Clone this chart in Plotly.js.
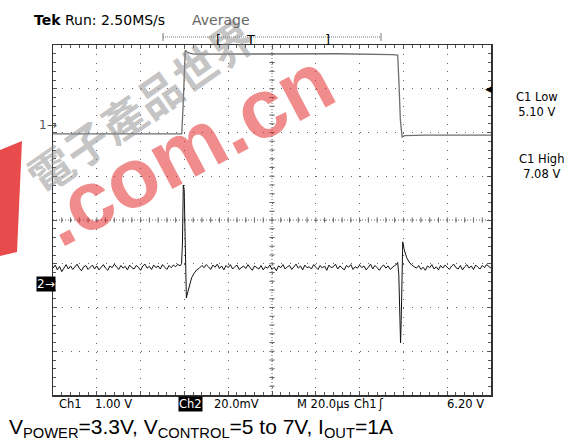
<!DOCTYPE html>
<html>
<head>
<meta charset="utf-8">
<script src="https://cdn.plot.ly/plotly-3.0.1.min.js"></script>
<style>
html,body{margin:0;padding:0;background:#fff;}
#chart{width:571px;height:441px;}
</style>
</head>
<body>
<div id="chart"></div>
<script>
// ---------- DATA (time in µs, 20 µs/div; levels in screen divisions) ----------
// Ch1 (gray) – control voltage step
const ch1Time  = [0, 20, 40, 58.8, 59.4, 60.0, 60.4, 61.2, 62.6, 64.6, 100, 130, 155, 157.4, 158.0, 158.6, 159.4, 160.6, 170, 200];
const ch1Level = [1.97, 1.97, 1.96, 1.97, 2.6, 3.5, 3.88, 3.84, 3.81, 3.79, 3.79, 3.80, 3.78, 3.77, 3.1, 2.3, 1.90, 1.93, 1.94, 1.94];

// Ch2 (black) – output ripple, 1 µs samples, noisy segments + transients
const ch2SegAStart = 0;
const ch2SegA = [-1.10,-1.03,-1.14,-1.06,-1.18,-1.09,-1.02,-1.12,-1.05,-1.13,
                 -1.08,-1.01,-1.10,-1.16,-1.07,-1.04,-1.13,-1.09,-1.03,-1.12,
                 -1.05,-1.14,-1.08,-1.02,-1.10,-1.15,-1.05,-1.09,-1.01,-1.08,
                 -1.13,-1.04,-1.10,-1.06,-1.14,-1.03,-1.09,-1.12,-1.04,-1.08,
                 -1.15,-1.05,-1.01,-1.10,-1.06,-1.13,-1.03,-1.09,-1.05,-1.12,
                 -1.02,-1.08,-1.13,-1.04,-1.09,-1.03,-1.07,-1.01,-1.05];
const spike1Time  = [58.7, 59.1, 59.5, 59.9, 60.3, 60.9, 61.6, 62.4, 63.3, 64.4, 65.6, 66.8];
const spike1Level = [-1.00, -0.55, 0.80, 0.70, -0.30, -1.78, -1.64, -1.47, -1.32, -1.22, -1.14, -1.10];
const ch2SegBStart = 68;
const ch2SegB = [-1.04,-1.09,-1.02,-1.07,-1.13,-1.03,-1.08,-1.01,-1.11,-1.05,
                 -1.14,-1.04,-1.09,-1.02,-1.12,-1.07,-1.03,-1.13,-1.08,-1.05,
                 -1.11,-1.02,-1.09,-1.15,-1.05,-1.08,-1.12,-1.04,-1.14,-1.07,
                 -1.10,-1.03,-1.13,-1.08,-1.16,-1.05,-1.09,-1.02,-1.12,-1.07,
                 -1.04,-1.13,-1.08,-1.01,-1.10,-1.05,-1.14,-1.03,-1.09,-1.07,
                 -1.12,-1.02,-1.08,-1.13,-1.04,-1.10,-1.05,-1.15,-1.03,-1.09,
                 -1.07,-1.01,-1.12,-1.05,-1.10,-1.14,-1.04,-1.08,-1.02,-1.13,
                 -1.07,-1.10,-1.03,-1.09,-1.05,-1.14,-1.08,-1.01,-1.12,-1.04,
                 -1.09,-1.15,-1.07,-1.03,-1.10,-1.05,-1.13,-1.08,-1.04];
const spike2Time  = [156.8, 157.4, 157.9, 158.3, 158.7, 159.0, 159.3, 159.7, 160.4, 161.5, 162.6, 163.8, 165.0];
const spike2Level = [-1.02, -0.97, -1.25, -2.20, -2.81, -2.30, -1.20, -0.50, -0.68, -0.86, -0.96, -1.03, -1.07];
const ch2SegCStart = 166;
const ch2SegC = [-1.10,-1.04,-1.13,-1.08,-1.15,-1.05,-1.09,-1.02,-1.12,-1.07,
                 -1.14,-1.04,-1.10,-1.03,-1.08,-1.13,-1.05,-1.01,-1.09,-1.12,
                 -1.04,-1.14,-1.07,-1.02,-1.10,-1.05,-1.13,-1.03,-1.08,-1.12,
                 -1.04,-1.09,-1.02,-1.07,-1.10];

// Labels
const topLabel = ['Tek', 'Run: 2.50MS/s', 'Average'];
const bottomLabels = ['Ch1', '1.00 V', 'Ch2', '20.0mV', 'M 20.0µs', 'Ch1', '6.20 V'];
const sideLabels = ['C1 Low', '5.10 V', 'C1 High', '7.08 V'];
const caption = 'V<sub>POWER</sub>=3.3V, V<sub>CONTROL</sub>=5 to 7V, I<sub>OUT</sub>=1A';

// ---------- build ch2 series ----------
const ch2T = [], ch2V = [];
function addSeg(start, vals){ vals.forEach((v,i)=>{ ch2T.push(start+i); ch2V.push(v); }); }
function addPts(ts, vs){ ts.forEach((t,i)=>{ ch2T.push(t); ch2V.push(vs[i]); }); }
addSeg(ch2SegAStart, ch2SegA);
addPts(spike1Time, spike1Level);
addSeg(ch2SegBStart, ch2SegB);
addPts(spike2Time, spike2Level);
addSeg(ch2SegCStart, ch2SegC);

// ---------- geometry ----------
const L = 53, R = 491, T = 45, B = 395, W = 571, H = 441;
const PW = R - L, PH = B - T;
const px = x => (x - L) / PW;
const py = y => (B - y) / PH;

const scopeFont = 'DejaVu Sans, sans-serif';

function ann(text, x, y, opts){
  return Object.assign({xref:'paper', yref:'paper', x:px(x), y:py(y), text:text,
    showarrow:false, xanchor:'left', yanchor:'middle',
    font:{family:scopeFont, size:11.5, color:'#000'}}, opts||{});
}

const annotations = [
  // watermark
  {xref:'paper', yref:'paper', x:px(140), y:py(105), xanchor:'center', yanchor:'middle', text:'電子產品世界', showarrow:false,
   textangle:-35, font:{family:'Noto Sans CJK TC', size:44, color:'rgba(140,140,140,0.5)', weight:700}},
  {xref:'paper', yref:'paper', x:px(186), y:py(149), xanchor:'center', yanchor:'middle', text:'.com.cn', showarrow:false,
   textangle:-28, font:{family:'Liberation Sans, Arial', size:84, color:'rgba(228,45,45,0.55)', weight:700}},
  // header
  ann('<b>'+topLabel[0]+'</b> '+topLabel[1], 32, 20, {font:{family:scopeFont, size:14, color:'#000'}}),
  ann(topLabel[2], 190, 20, {font:{family:scopeFont, size:14, color:'#666'}}),
  ann('[', 218, 30, {xanchor:'center', yanchor:'top', font:{family:scopeFont, size:13, color:'#000'}}),
  ann('T', 250, 30, {xanchor:'center', yanchor:'top', font:{family:scopeFont, size:13, color:'#000'}}),
  ann(']', 327, 30, {xanchor:'center', yanchor:'top', font:{family:scopeFont, size:13, color:'#000'}}),
  // channel markers
  ann('1→', 37, 125, {font:{family:scopeFont, size:12, color:'#555'}}),
  ann('2→', 36, 284, {bgcolor:'#000', borderpad:0, font:{family:scopeFont, size:12, color:'#fff'}}),
  ann('◀', 483, 89, {font:{family:scopeFont, size:9, color:'#000'}}),
  // side readouts
  ann(sideLabels[0]+'<br>'+sideLabels[1], 537, 104, {xanchor:'center', align:'center', font:{family:scopeFont, size:11.5, color:'#000'}}),
  ann(sideLabels[2]+'<br>'+sideLabels[3], 541, 166, {xanchor:'center', align:'center', font:{family:scopeFont, size:11.5, color:'#000'}}),
  // bottom readouts
  ann(bottomLabels[0], 57, 404),
  ann(bottomLabels[1], 93, 404),
  ann(bottomLabels[2], 178, 404, {bgcolor:'#000', borderpad:0, font:{family:scopeFont, size:11.5, color:'#fff'}}),
  ann(bottomLabels[3], 212, 404),
  ann(bottomLabels[4], 295, 404),
  ann(bottomLabels[5], 352, 404),
  ann('ʃ', 376, 404),
  ann(bottomLabels[6], 445, 404),
  // caption
  ann(caption, 7, 428, {font:{family:'Liberation Sans, Arial, sans-serif', size:21, color:'#000'}})
];

// graticule shapes: center cross with tick marks, trigger bar, watermark stroke
const shapes = [];
const gcol = '#666';
shapes.push({type:'line', xref:'x', yref:'y', x0:100, x1:100, y0:-4, y1:4, line:{color:gcol, width:1, dash:'1px,2px'}, layer:'below'});
shapes.push({type:'line', xref:'x', yref:'y', x0:0, x1:200, y0:0, y1:0, line:{color:gcol, width:1, dash:'1px,2px'}, layer:'below'});
for (let k = 1; k < 50; k++){
  const x = k*4;
  shapes.push({type:'line', xref:'x', yref:'y', x0:x, x1:x, y0:-0.06, y1:0.06, line:{color:gcol, width:1}, layer:'below'});
}
for (let k = 1; k < 40; k++){
  const y = -4 + k*0.2;
  shapes.push({type:'line', xref:'x', yref:'y', x0:98.8, x1:101.2, y0:y, y1:y, line:{color:gcol, width:1}, layer:'below'});
}
// trigger position bar
shapes.push({type:'line', xref:'paper', yref:'paper', x0:px(163), x1:px(381), y0:py(37), y1:py(37), line:{color:'#777', width:1, dash:'1px,1px'}});
shapes.push({type:'line', xref:'paper', yref:'paper', x0:px(163), x1:px(163), y0:py(33), y1:py(41), line:{color:'#777', width:1}});
shapes.push({type:'line', xref:'paper', yref:'paper', x0:px(381), x1:px(381), y0:py(33), y1:py(41), line:{color:'#777', width:1}});
// trigger level arrow tail
shapes.push({type:'line', xref:'paper', yref:'paper', x0:px(487), x1:px(491), y0:py(89), y1:py(89), line:{color:'#000', width:1.5}});
// watermark stroke cut at left edge
shapes.push({type:'path', xref:'paper', yref:'paper', layer:'above', line:{width:0}, fillcolor:'rgba(225,30,30,0.8)',
  path:'M'+px(0)+','+py(150)+' L'+px(22)+','+py(141)+' L'+px(17)+','+py(252)+' L'+px(0)+','+py(256)+' Z'});

const axCommon = {
  showticklabels:false, showline:true, linecolor:'#333', linewidth:1.5, mirror:'allticks',
  ticks:'inside', ticklen:4, tickcolor:'#555', tickwidth:1,
  showgrid:true, gridcolor:'#666', gridwidth:1, zeroline:false, fixedrange:true
};

const layout = {
  width:W, height:H,
  margin:{l:L, r:W-R, t:T, b:H-B, pad:0},
  paper_bgcolor:'#fff', plot_bgcolor:'#fff',
  showlegend:false,
  xaxis:Object.assign({}, axCommon, {range:[0,200], dtick:20, tick0:0, griddash:'1px,7.76px',
    minor:{dtick:4, ticks:'inside', ticklen:3, tickcolor:'#555', showgrid:false}}),
  yaxis:Object.assign({}, axCommon, {range:[-4,4], dtick:1, tick0:0, griddash:'1px,7.76px',
    minor:{dtick:0.2, ticks:'inside', ticklen:3, tickcolor:'#555', showgrid:false}}),
  annotations:annotations,
  shapes:shapes
};

const data = [
  {x:ch1Time, y:ch1Level, type:'scatter', mode:'lines', line:{color:'#6e6e6e', width:1.3}, hoverinfo:'skip'},
  {x:ch2T, y:ch2V, type:'scatter', mode:'lines', line:{color:'#111', width:1}, hoverinfo:'skip'}
];

Plotly.newPlot('chart', data, layout, {staticPlot:true, displayModeBar:false});
</script>
</body>
</html>
